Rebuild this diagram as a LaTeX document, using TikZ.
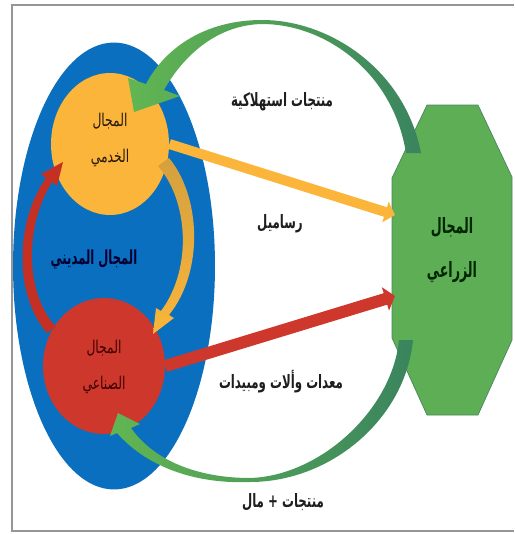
\documentclass[tikz,border=0pt]{standalone}
\usepackage{fontspec}
\usepackage{graphicx}
\usepackage{tikz}
\usetikzlibrary{shapes.geometric,arrows.meta}
\newfontfamily\arabicfont[Script=Arabic]{DejaVu Sans}
\TeXXeTstate=1
\newcommand{\ar}[2][0.64]{\scalebox{#1}[1]{\beginR #2\endR}}
\definecolor{framegray}{RGB}{150,150,150}
\definecolor{cityblue}{RGB}{10,111,190}
\definecolor{servgold}{RGB}{250,181,58}
\definecolor{indred}{RGB}{206,55,44}
\definecolor{agrigreen}{RGB}{93,174,84}
\definecolor{agriedge}{RGB}{72,135,95}
\definecolor{brightgreen}{RGB}{98,182,82}
\definecolor{tealblue}{RGB}{48,122,168}
\definecolor{deepgreen}{RGB}{58,132,94}
\definecolor{darkgold}{RGB}{212,160,62}
\definecolor{arrowred}{RGB}{196,48,36}
\definecolor{inkdark}{RGB}{30,30,30}

\begin{document}
\begin{tikzpicture}[x=0.02cm,y=-0.02cm,
  lbl/.style={font=\arabicfont\bfseries\fontsize{10.5}{12}\selectfont,text=inkdark,inner sep=0pt},
  inlbl/.style={font=\arabicfont\fontsize{10}{20.5}\selectfont,align=center,inner sep=0pt},
  zone/.style={shape=ellipse,inner sep=0pt}]
\useasboundingbox (0,0) rectangle (514,534);
\draw[framegray,line width=0.8pt] (514,5) -- (12,5) -- (12,531) -- (514,531);

\node[zone,fill=cityblue,minimum width=4.04cm,minimum height=8.94cm] (M) at (114,266) {};
\node[zone,fill=servgold,minimum width=2.36cm,minimum height=2.84cm] (K) at (110,144) {};
\node[zone,fill=indred,minimum width=2.44cm,minimum height=2.72cm] (S) at (104,366) {};
\filldraw[fill=agrigreen,draw=agriedge,line width=0.4pt] (427,105) -- (478,105) -- (512,177) -- (512,340) -- (478,415) -- (427,415) -- (392,338) -- (392,178) -- cycle;
\coordinate (Zy) at (395,215);
\coordinate (Zr) at (395,296);

\node[font=\arabicfont\bfseries\fontsize{11}{13}\selectfont,text=black!80!blue,inner sep=0pt] (Mt) at (94,260) {\ar[0.6]{المجال المديني}};
\node[inlbl,text=black!80!brown] (Kt) at (110,140) {\ar[0.7]{المجال}\\\ar[0.7]{الخدمي}};
\node[inlbl,text=black!75!red] (St) at (104,367) {\ar[0.7]{المجال}\\\ar[0.7]{الصناعي}};
\node[font=\arabicfont\bfseries\fontsize{12}{25}\selectfont,text=black!85!green,align=center,inner sep=0pt] (Z) at (452,250) {\ar[0.6]{المجال}\\\ar[0.6]{الزراعي}};

\draw[servgold,line width=0.2cm,-{Triangle[length=0.2cm,width=0.42cm]}] (K.east) -- (Zy);
\draw[indred,line width=0.24cm,-{Triangle[length=0.2cm,width=0.48cm]}] (S.east) -- (Zr);

\shade[left color=brightgreen,middle color=tealblue,right color=deepgreen] (421,153) .. controls (405,70) and (330,20) .. (262,20) .. controls (205,20) and (165,48) .. (146,84) -- (128,78) -- (134,112) -- (180,96) -- (164,90) .. controls (182,58) and (215,25) .. (262,24) .. controls (325,24) and (393,72) .. (406,153) -- cycle;
\shade[left color=brightgreen,middle color=tealblue,right color=deepgreen] (118,413) -- (140,424) -- (131,428) .. controls (155,462) and (200,478) .. (250,478) .. controls (320,476) and (392,410) .. (399,340) -- (413,340) .. controls (405,420) and (330,482) .. (250,482) .. controls (200,484) and (150,470) .. (117,433) -- (110,436) -- cycle;
\fill[arrowred] (47,333) .. controls (14,295) and (15,222) .. (46,178) -- (41,174) -- (63,162) -- (57,186) -- (52,182) .. controls (25,225) and (24,292) .. (56,327) -- cycle;
\shade[top color=darkgold,bottom color=servgold] (169,158) .. controls (200,195) and (205,270) .. (169,315) -- (174,318) -- (153,334) -- (156,308) -- (161,311) .. controls (193,268) and (188,200) .. (158,166) -- cycle;

\node[lbl] (P) at (282,102) {\ar{منتجات استهلاكية}};
\node[lbl] (R) at (280,224) {\ar{رساميل}};
\node[lbl] (E) at (281,382) {\ar{معدات وألات ومبيدات}};
\node[lbl] (F) at (283,502) {\ar{منتجات + مال}};
\end{tikzpicture}
\end{document}
